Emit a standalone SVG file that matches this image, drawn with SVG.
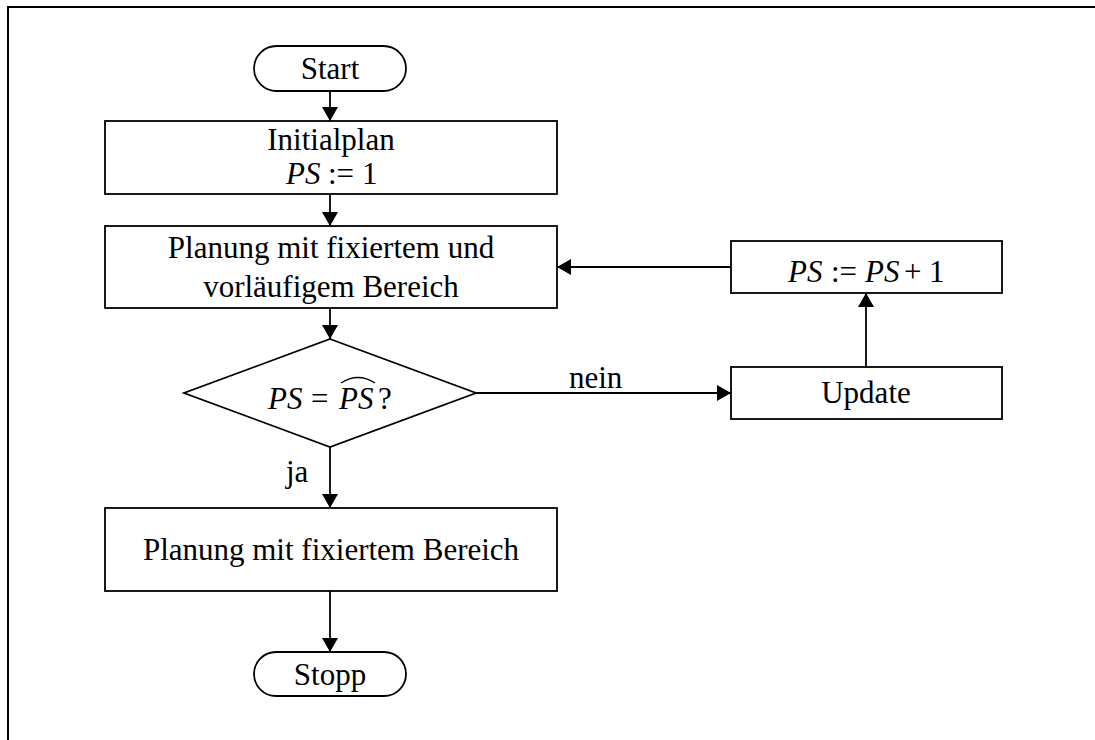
<svg xmlns="http://www.w3.org/2000/svg" width="1095" height="740" viewBox="0 0 1095 740">
  <defs>
    <marker id="arrow" viewBox="0 0 14 16" refX="14" refY="8" markerWidth="14" markerHeight="16" markerUnits="userSpaceOnUse" orient="auto">
      <path d="M0,0 L14,8 L0,16 Z" fill="#000"/>
    </marker>
    <style>
      .shape { fill: #fff; stroke: #000; stroke-width: 1.8; }
      .edge { fill: none; stroke: #000; stroke-width: 1.8; marker-end: url(#arrow); }
      .label { font-family: "Liberation Serif", "Times New Roman", serif; font-size: 31px; fill: #000; }
      .mid { text-anchor: middle; }
      .it { font-style: italic; }
      .frame { fill: none; stroke: #000; stroke-width: 2; }
    </style>
  </defs>

  <rect width="1095" height="740" fill="#fff"/>

  <!-- page frame: top and left edges -->
  <path class="frame" d="M1095,7 L8,7 L8,740"/>

  <g id="connectors">
    <line class="edge" x1="330" y1="91" x2="330" y2="121"/>
    <line class="edge" x1="330" y1="194" x2="330" y2="226"/>
    <line class="edge" x1="330" y1="308" x2="330" y2="339"/>
    <line class="edge" x1="330" y1="447" x2="330" y2="508"/>
    <line class="edge" x1="330" y1="591" x2="330" y2="652"/>
    <line class="edge" x1="476" y1="393" x2="731" y2="393"/>
    <line class="edge" x1="866" y1="367" x2="866" y2="293"/>
    <line class="edge" x1="731" y1="267" x2="557" y2="267"/>
    <text class="label" x="569" y="388">nein</text>
    <text class="label" x="286" y="482">ja</text>
  </g>

  <g id="start">
    <rect class="shape" x="254" y="46" width="152" height="45" rx="22.5"/>
    <text class="label mid" x="330" y="79">Start</text>
  </g>

  <g id="initialplan">
    <rect class="shape" x="105" y="121" width="452" height="73"/>
    <text class="label mid" x="331" y="150">Initialplan</text>
    <text class="label"><tspan class="it" x="286" y="184">PS</tspan><tspan x="328" y="184">:=</tspan><tspan x="362" y="184">1</tspan></text>
  </g>

  <g id="planung-vorlaeufig">
    <rect class="shape" x="105" y="226" width="452" height="82"/>
    <text class="label mid" x="331" y="258">Planung mit fixiertem und</text>
    <text class="label mid" x="331" y="297">vorläufigem Bereich</text>
  </g>

  <g id="decision">
    <polygon class="shape" points="330,339 476,393 330,447 184,393"/>
    <text class="label"><tspan class="it" x="268" y="409">PS</tspan><tspan x="311" y="409">=</tspan><tspan class="it" x="339" y="409">PS</tspan><tspan x="378" y="409">?</tspan></text>
    <path d="M341,383 Q358,372 375,383" fill="none" stroke="#000" stroke-width="1.3"/>
  </g>

  <g id="update">
    <rect class="shape" x="731" y="367" width="271" height="52"/>
    <text class="label mid" x="866" y="403">Update</text>
  </g>

  <g id="increment">
    <rect class="shape" x="731" y="241" width="271" height="52"/>
    <text class="label"><tspan class="it" x="788" y="282">PS</tspan><tspan x="831" y="282">:=</tspan><tspan class="it" x="865" y="282">PS</tspan><tspan x="904" y="282">+</tspan><tspan x="929" y="282">1</tspan></text>
  </g>

  <g id="planung-fixiert">
    <rect class="shape" x="105" y="508" width="452" height="83"/>
    <text class="label mid" x="331" y="560">Planung mit fixiertem Bereich</text>
  </g>

  <g id="stopp">
    <rect class="shape" x="254" y="652" width="152" height="44" rx="22"/>
    <text class="label mid" x="330" y="685">Stopp</text>
  </g>
</svg>
